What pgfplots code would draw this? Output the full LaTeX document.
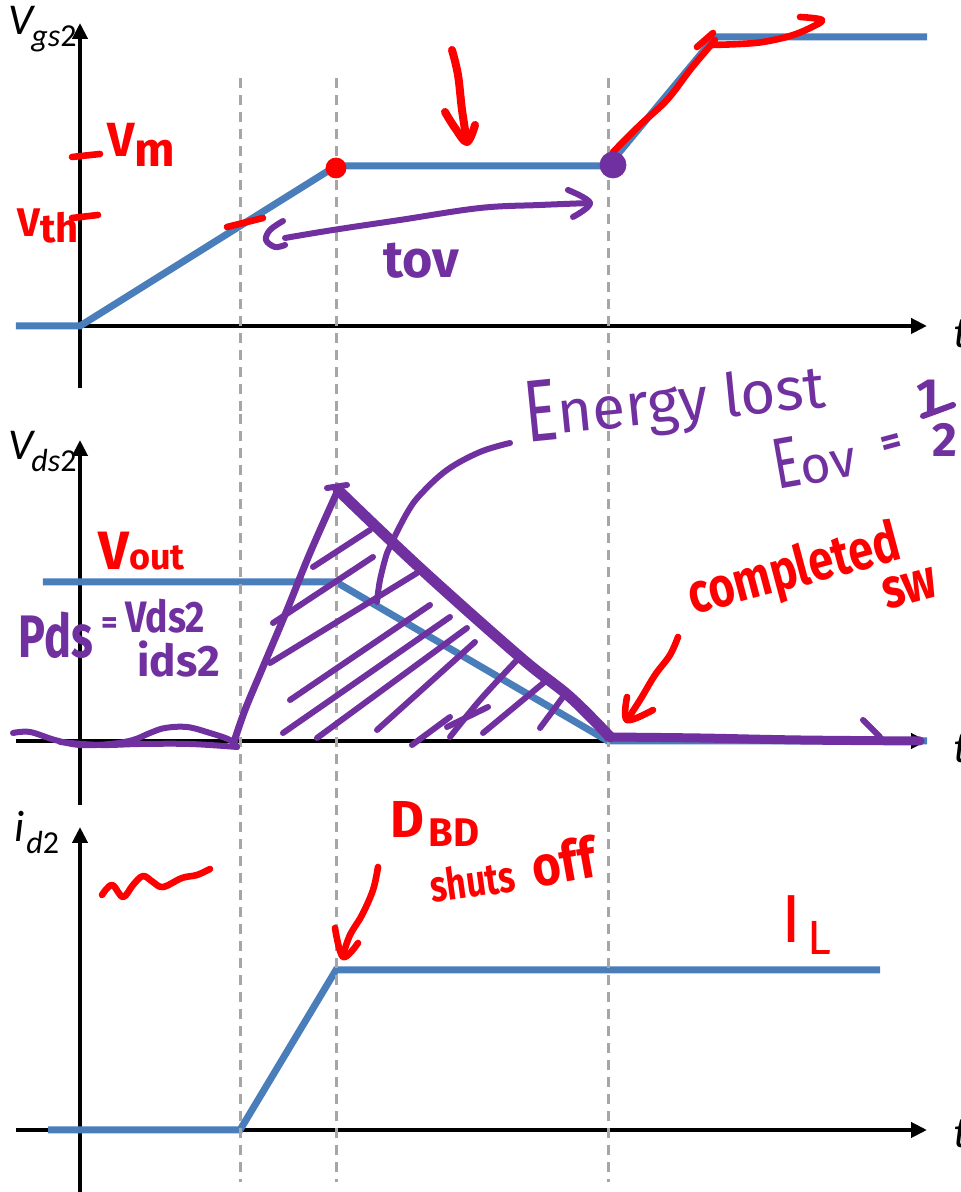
\documentclass[border=0pt]{standalone}
\usepackage{pgfplots}
\pgfplotsset{compat=1.18}
\usepackage{graphicx}
\usepackage{fontspec}
\setmainfont{Carlito}
\newfontfamily\hand{Fira Sans}
\usetikzlibrary{arrows.meta}

\definecolor{wave}{HTML}{4A7EBB}
\definecolor{ink}{HTML}{7030A0}
\definecolor{pen}{HTML}{FF0000}
\definecolor{guide}{HTML}{A6A6A6}

\pgfplotsset{
  panel/.style={
    scale only axis, width=455.5pt, height=182.5pt,
    xmin=-64, xmax=847,
    axis lines=middle,
    xtick=\empty, ytick=\empty,
    clip=false,
    anchor=south west,
    axis line style={line width=2pt, black, -{Triangle[length=8pt,width=7.5pt]}},
    every inner x axis line/.append style={-{Triangle[length=8pt,width=7.5pt]}},
    every inner y axis line/.append style={-{Triangle[length=8pt,width=7.5pt]}},
  },
  signal/.style={wave, line width=3.5pt},
  guideline/.style={guide, line width=1.5pt, dash pattern=on 5pt off 3.5pt},
  red stroke/.style={pen, line width=3.3pt, line cap=round, line join=round, smooth, tension=0.6},
  ink stroke/.style={ink, line width=3pt, line cap=round, line join=round, smooth, tension=0.6},
}

\newcommand\lab[1]{\fontsize{22}{22}\selectfont\itshape #1}
\newcommand\sub[1]{\raisebox{-6pt}{\fontsize{16}{16}\selectfont\itshape #1}}
\newcommand\hw[1]{\hand\bfseries\fontsize{#1}{#1}\selectfont}

\begin{document}
\begin{tikzpicture}
\useasboundingbox (0,0) rectangle (480pt,596pt);
\clip (0,0) rectangle (480pt,596pt);

% ---------------- gate-source voltage ----------------
\begin{axis}[panel, at={(8pt,402pt)}, ymin=-62, ymax=303]
\addplot[signal] coordinates {(-64,0) (0,0) (256,160) (528,160) (635,289) (847,289)};
\addplot[guideline] coordinates {(160,248) (160,-88)};
\addplot[guideline] coordinates {(256,248) (256,-88)};
\addplot[guideline] coordinates {(528,248) (528,-88)};
\node[anchor=base west, inner sep=0pt] at (-72,291) {\lab{V}\kern-1pt\sub{gs\upshape 2}};
\node[anchor=base west, inner sep=0pt] at (873,-22) {\lab{t}};
% threshold and plateau levels
\addplot[red stroke] coordinates {(-8,169) (20,172)};
\node[anchor=base west, inner sep=0pt, text=pen] at (27,169) {\hw{24}V\raisebox{-5pt}{m}};
\addplot[red stroke] coordinates {(-8,108) (18,111)};
\node[anchor=base west, inner sep=0pt, text=pen] at (-63,89) {\hw{20}V\raisebox{-3pt}{th}};
\addplot[red stroke] coordinates {(147,99) (183,108)};
\addplot[only marks, mark=*, mark size=5pt, mark options={draw=pen, fill=pen}] coordinates {(256,158)};
\addplot[only marks, mark=*, mark size=6.5pt, mark options={draw=ink, fill=ink}] coordinates {(533,161)};
% plateau arrow
\addplot[red stroke, line width=4pt] coordinates {(372,276) (378,251) (382,216) (387,184)};
\addplot[red stroke, line width=4pt] coordinates {(365,214) (375,198) (387,184) (395,201)};
% second rise
\addplot[red stroke] coordinates {(533,174) (560,201) (587,226) (610,256) (625,274) (635,286)};
\addplot[red stroke] coordinates {(632,281) (660,282) (683,284) (710,290) (730,298) (742,306) (720,309)};
\addplot[red stroke] coordinates {(617,279) (633,293)};
% overlap time
\addplot[ink stroke] coordinates {(203,105) (190,96) (186,86) (195,79) (205,81)};
\addplot[ink stroke] coordinates {(205,88) (253,96) (320,106) (400,118) (460,121) (510,123)};
\addplot[ink stroke, smooth=false] coordinates {(488,136) (510,123) (493,109)};
\node[anchor=base west, inner sep=0pt, text=ink] at (303,48) {\hw{26}tov};
\end{axis}

% ---------------- drain-source voltage ----------------
\begin{axis}[panel, at={(8pt,193.5pt)}, ymin=-64, ymax=301]
\addplot[signal] coordinates {(-37,159) (256,159) (528,0) (847,0)};
\addplot[guideline] coordinates {(160,327) (160,-64)};
\addplot[guideline] coordinates {(256,327) (256,-64)};
\addplot[guideline] coordinates {(528,327) (528,-64)};
\node[anchor=base west, inner sep=0pt] at (-72,281) {\lab{V}\kern-1pt\sub{ds\upshape 2}};
\node[anchor=base west, inner sep=0pt] at (873,-22) {\lab{t}};
% power during the overlap
\addplot[ink stroke] coordinates {(-67,8) (-50,9) (-25,1) (0,-4) (30,-3) (53,1) (70,8) (85,13) (107,14) (130,8) (150,1) (157,-6)};
\addplot[ink stroke] coordinates {(-20,-1) (20,-4) (60,-3) (110,-3) (157,-6)};
\addplot[ink stroke, line width=3.5pt] coordinates {(153,-4) (165,31) (183,74) (207,131) (230,188) (258,251)};
\addplot[ink stroke, line width=5.5pt] coordinates {(258,251) (340,173) (440,84) (490,44) (530,4)};
\addplot[ink stroke] coordinates {(247,253) (267,256)};
\addplot[ink stroke, line width=4.5pt] coordinates {(528,4) (620,3) (720,1) (840,0)};
\addplot[ink stroke] coordinates {(783,21) (800,4)};
% hatching
\addplot[ink stroke] coordinates {(233,174) (290,211)};
\addplot[ink stroke] coordinates {(193,118) (293,184)};
\addplot[ink stroke] coordinates {(190,78) (337,168)};
\addplot[ink stroke] coordinates {(210,41) (350,136)};
\addplot[ink stroke] coordinates {(203,8) (370,124)};
\addplot[ink stroke] coordinates {(237,3) (387,113)};
\addplot[ink stroke] coordinates {(297,11) (395,99)};
\addplot[ink stroke] coordinates {(332,-4) (370,24)};
\addplot[ink stroke] coordinates {(370,4) (400,41) (437,81)};
\addplot[ink stroke] coordinates {(367,14) (408,34)};
\addplot[ink stroke] coordinates {(403,8) (467,61)};
\addplot[ink stroke] coordinates {(460,13) (483,44)};
% energy note
\addplot[ink stroke] coordinates {(430,298) (400,289) (367,271) (340,246) (327,228) (313,201) (307,188) (300,161) (297,139)};
\node[anchor=base west, inner sep=0pt, text=ink, rotate=5.7] at (447,298)
  {\hand\fontsize{44}{44}\selectfont\scalebox{0.7}[1]{E}\fontsize{30}{30}\selectfont\raisebox{3pt}{nergy lost}};
\node[anchor=base west, inner sep=0pt, text=ink, rotate=10] at (697,251)
  {\hand\fontsize{36}{36}\selectfont\scalebox{0.7}[1]{E}\fontsize{26}{26}\selectfont ov};
\node[inner sep=0pt, text=ink, rotate=15] at (812,296) {\hw{20}=};
\node[inner sep=0pt, text=ink] at (848,345) {\hw{24}1};
\addplot[ink stroke] coordinates {(843,325) (873,336)};
\node[inner sep=0pt, text=ink] at (865,301) {\hw{24}2};
\node[anchor=base west, inner sep=0pt, text=pen] at (18,171) {\hw{27}V\hw{18}out};
\node[anchor=base west, inner sep=0pt, text=ink] at (-62,83) {\hw{30}\scalebox{0.75}[1]{Pds}};
\node[inner sep=0pt, text=ink] at (30,115) {\hw{16}=};
\node[anchor=base west, inner sep=0pt, text=ink] at (45,108) {\hw{22}\scalebox{0.85}[1]{Vds2}};
\node[anchor=base west, inner sep=0pt, text=ink] at (57,64) {\hw{22}ids2};
% switching completed
\node[anchor=base west, inner sep=0pt, text=pen, rotate=15] at (613,126) {\hw{28}\scalebox{0.8}[1]{completed}};
\node[anchor=base west, inner sep=0pt, text=pen, rotate=15] at (807,131) {\hw{28}\scalebox{0.8}[1]{sw}};
\addplot[red stroke] coordinates {(598,104) (590,86) (575,66) (560,41) (547,21)};
\addplot[red stroke, smooth=false] coordinates {(547,44) (547,21) (573,31)};
\end{axis}

% ---------------- drain current ----------------
\begin{axis}[panel, at={(8pt,0pt)}, ymin=-62, ymax=303]
\addplot[signal] coordinates {(-32,0) (160,0) (256,160) (800,160)};
\addplot[guideline] coordinates {(160,325) (160,-52)};
\addplot[guideline] coordinates {(256,325) (256,-52)};
\addplot[guideline] coordinates {(528,325) (528,-52)};
\node[anchor=base west, inner sep=0pt] at (-66,288) {\lab{i}\kern1pt\sub{d\upshape 2}};
\node[anchor=base west, inner sep=0pt] at (873,-18) {\lab{t}};
\addplot[red stroke] coordinates {(22,235) (32,245) (43,233) (53,245) (63,254) (73,248) (83,243) (102,252) (117,255) (130,261)};
\addplot[red stroke] coordinates {(298,263) (293,240) (282,215) (270,195) (263,175)};
\addplot[red stroke, smooth=false] coordinates {(255,202) (263,173) (278,187)};
\node[anchor=base west, inner sep=0pt, text=pen] at (310,292) {\hw{26}D};
\node[anchor=base west, inner sep=0pt, text=pen] at (348,283) {\hw{20}BD};
\node[anchor=base west, inner sep=0pt, text=pen, rotate=8] at (352,227) {\hw{22}\scalebox{0.78}[1]{shuts}};
\node[anchor=base west, inner sep=0pt, text=pen, rotate=10] at (455,242) {\hw{28}\scalebox{0.88}[1]{off}};
\node[anchor=base, inner sep=0pt, text=pen] at (712,187) {\hand\fontsize{34}{34}\selectfont I};
\node[anchor=base west, inner sep=0pt, text=pen] at (727,175) {\hand\fontsize{24}{24}\selectfont L};
\end{axis}
\end{tikzpicture}
\end{document}
